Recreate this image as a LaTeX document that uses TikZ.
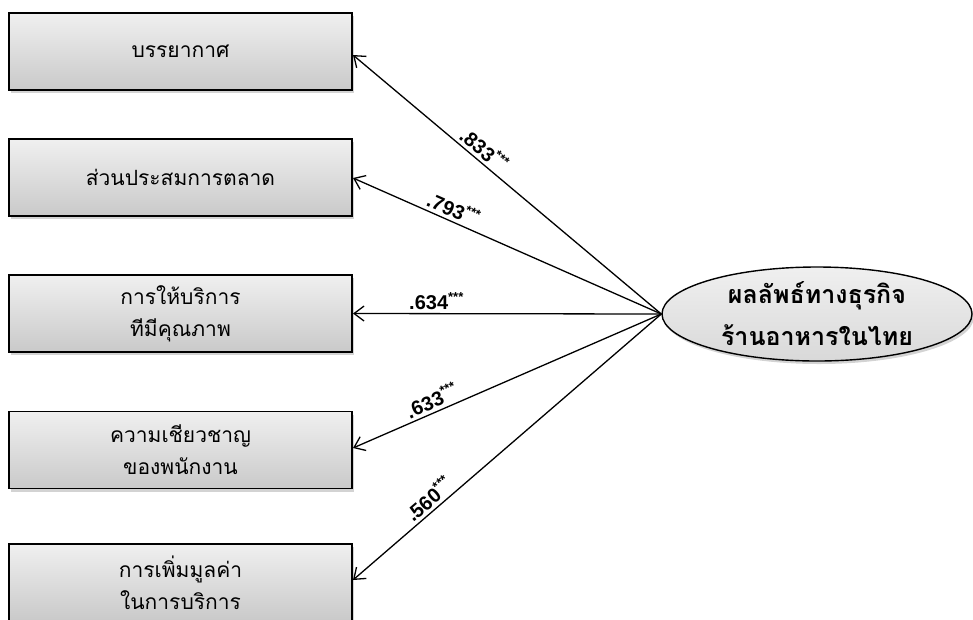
\documentclass[tikz,border=0pt]{standalone}
\usepackage{fontspec}
\setmainfont{Liberation Sans}
\newfontfamily\thaifont[Script=Thai]{Loma}
\usetikzlibrary{arrows.meta,shadows,shapes.geometric}
\newcommand{\sig}[1]{#1\raisebox{0.42em}{\fontsize{13}{13}\selectfont ***}}
\begin{document}
\begin{tikzpicture}[x=1pt,y=-1pt,
  factor/.style={rectangle, draw=black, line width=1.4pt,
    minimum width=343pt, minimum height=77pt, inner sep=0pt,
    top color=gray!12, bottom color=gray!42,
    drop shadow={shadow xshift=2pt, shadow yshift=-3pt, opacity=0.35, fill=gray},
    font=\thaifont\fontsize{21}{32}\selectfont, align=center},
  outcome/.style={ellipse, draw=black, line width=1.4pt,
    minimum width=310pt, minimum height=94pt, inner sep=0pt,
    top color=gray!12, bottom color=gray!30,
    drop shadow={shadow xshift=2pt, shadow yshift=-3pt, opacity=0.35, fill=gray},
    font=\thaifont\bfseries\fontsize{25}{42}\selectfont, align=center},
  loading/.style={draw=black, line width=1.3pt,
    -{Straight Barb[length=10pt,width=15pt,line width=1.3pt]}},
  coef/.style={sloped, above, inner sep=3pt, font=\bfseries\fontsize{20}{20}\selectfont}
]
\useasboundingbox (0,0) rectangle (973,619);
\clip (0,0) rectangle (973,619);

% latent construct
\node[outcome] (res) at (817,314) {ผลลัพธ์ทางธุรกิจ\\ร้านอาหารในไทย};

% observed indicators
\node[factor] (f1) at (180.5,51.5) {บรรยากาศ};
\node[factor] (f2) at (180.5,177.5) {ส่วนประสมการตลาด};
\node[factor] (f3) at (180.5,313.5) {การให้บริการ\\ทีมีคุณภาพ};
\node[factor] (f4) at (180.5,450) {ความเชียวชาญ\\ของพนักงาน};
\node[factor] (f5) at (180.5,582.5) {การเพิ่มมูลค่า\\ในการบริการ};

% arrow ends on the right edges of the indicator boxes
\coordinate (a1) at (353,55);
\coordinate (a2) at (353,178);
\coordinate (a3) at (353,313.5);
\coordinate (a4) at (353,448);
\coordinate (a5) at (353,580);

% standardised loadings
\draw[loading] (res.west) -- node[coef, pos=0.60] {\sig{.833}} (a1);
\draw[loading] (res.west) -- node[coef, pos=0.69] {\sig{.793}} (a2);
\draw[loading] (res.west) -- node[coef, pos=0.73] {\sig{.634}} (a3);
\draw[loading] (res.west) -- node[coef, pos=0.73] {\sig{.633}} (a4);
\draw[loading] (res.west) -- node[coef, pos=0.73] {\sig{.560}} (a5);
\end{tikzpicture}
\end{document}
